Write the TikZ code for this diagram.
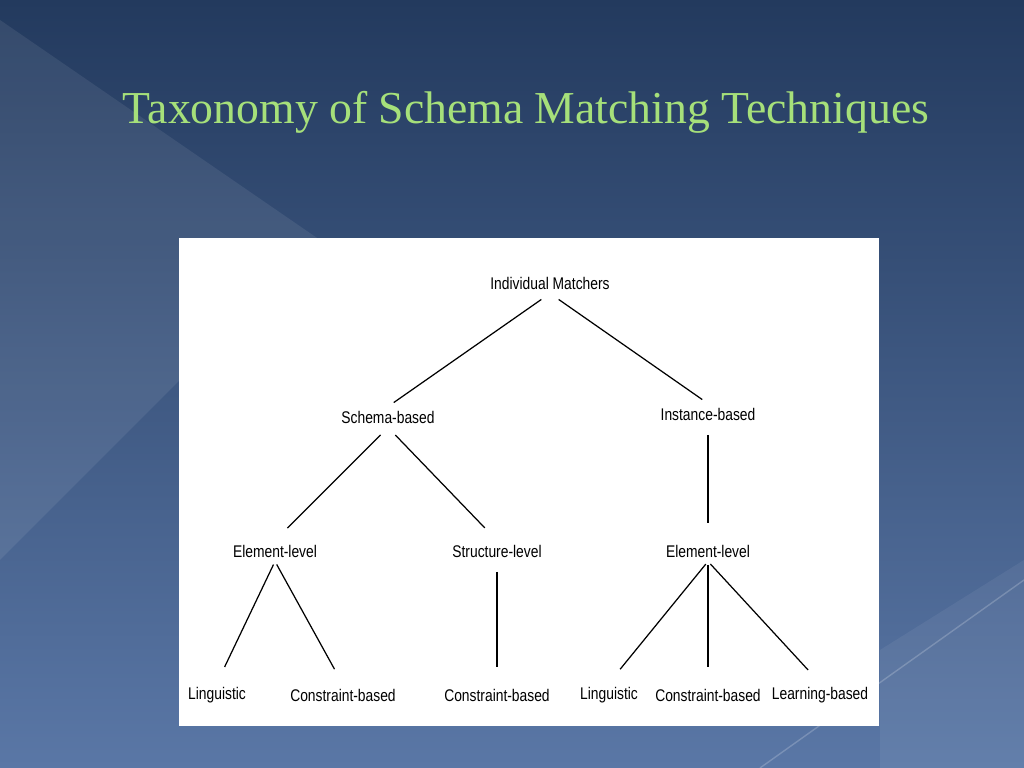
\documentclass[tikz,border=0pt]{standalone}
\usepackage{fontspec}
\setmainfont{Liberation Serif}
\newfontfamily\labelfont[FakeStretch=0.82]{Liberation Sans}
\definecolor{bgtop}{HTML}{233A5E}
\definecolor{bgbot}{HTML}{5A77A6}
\definecolor{titlegreen}{HTML}{A6E07A}
\tikzset{
  lbl/.style={font=\labelfont\fontsize{4.8}{5}\selectfont, inner sep=1pt},
  edge/.style={line width=0.35pt}
}
\begin{document}
\begin{tikzpicture}[x=0.01cm,y=-0.01cm]
  \useasboundingbox (0,0) rectangle (1024,768);
  % background
  \shade[top color=bgtop, bottom color=bgbot] (0,0) rectangle (1024,768);
  \fill[white, opacity=0.08] (0,20) -- (320,240) -- (0,560) -- cycle;
  \fill[white, opacity=0.06] (880,650) -- (1024,560) -- (1024,768) -- (880,768) -- cycle;
  \draw[white, opacity=0.2] (760,768) -- (1024,580);
  \node[text=titlegreen, font=\fontsize{13}{15}\selectfont] (title) at (526,112) {Taxonomy of Schema Matching Techniques};
  % diagram panel
  \fill[white] (179,238) rectangle (879,726);
  \node[lbl] (im) at (550,283) {Individual Matchers};
  \node[lbl] (sb) at (388,417) {Schema-based};
  \node[lbl] (ib) at (708,414) {Instance-based};
  \node[lbl] (el1) at (275,551) {Element-level};
  \node[lbl] (sl) at (497,551) {Structure-level};
  \node[lbl] (el2) at (708,551) {Element-level};
  \node[lbl] (l1) at (217,695) {Linguistic};
  \node[lbl] (c1) at (343,695) {Constraint-based};
  \node[lbl] (c2) at (497,695) {Constraint-based};
  \node[lbl] (l2) at (609,695) {Linguistic};
  \node[lbl] (c3) at (708,695) {Constraint-based};
  \node[lbl] (lb) at (820,695) {Learning-based};
  \draw[edge, shorten <=3pt, shorten >=2pt] (im.south) -- (sb.north);
  \draw[edge, shorten <=3pt, shorten >=2pt] (im.south) -- (ib.north);
  \draw[edge, shorten <=3pt, shorten >=5pt] (sb.south) -- (el1.north);
  \draw[edge, shorten <=3pt, shorten >=5pt] (sb.south) -- (sl.north);
  \draw[edge, shorten <=3pt, shorten >=5pt] (ib.south) -- (el2.north);
  \draw[edge, shorten <=1pt, shorten >=5pt] (el1.south) -- (l1.north);
  \draw[edge, shorten <=1pt, shorten >=5pt] (el1.south) -- (c1.north);
  \draw[edge, shorten <=3pt, shorten >=5pt] (sl.south) -- (c2.north);
  \draw[edge, shorten <=1pt, shorten >=5pt] (el2.south) -- (l2.north);
  \draw[edge, shorten <=1pt, shorten >=5pt] (el2.south) -- (c3.north);
  \draw[edge, shorten <=1pt, shorten >=5pt] (el2.south) -- (lb.north);
\end{tikzpicture}
\end{document}
